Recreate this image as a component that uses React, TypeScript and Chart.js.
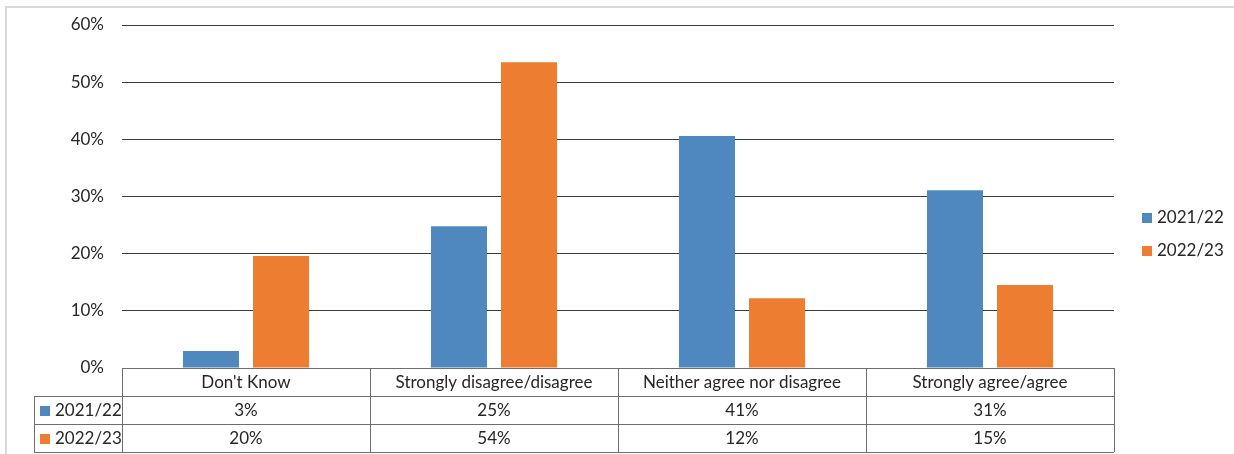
import React, { useEffect, useRef } from 'react';
import { Chart, registerables } from 'chart.js';

Chart.register(...registerables);

const categories = ["Don't Know", 'Strongly disagree/disagree', 'Neither agree nor disagree', 'Strongly agree/agree'];
const seriesNames = ['2021/22', '2022/23'];
const series2122 = [2.97, 24.8, 40.6, 31.1];
const series2223 = [19.6, 53.5, 12.2, 14.5];
const yTicks = [0, 10, 20, 30, 40, 50, 60];

const BLUE = '#4f88be';
const ORANGE = '#ed7d31';
const COLORS = [BLUE, ORANGE];
const FONT = 'Lato, "Open Sans", sans-serif';
const FONT_SIZE = 17;
const TEXT = '#262626';

const dataTablePlugin = {
  id: 'dataTable',
  afterDraw(chart: any) {
    const ctx = chart.ctx as CanvasRenderingContext2D;
    const area = chart.chartArea;
    const xScale = chart.scales.x;
    const n = categories.length;
    const colW = area.width / n;
    const rowH = 28;
    const top = area.bottom;
    const tableLeft = 34;
    const right = area.right;
    ctx.save();
    ctx.strokeStyle = '#6e6e6e';
    ctx.lineWidth = 1;
    const hline = (x1: number, x2: number, y: number) => {
      ctx.beginPath();
      ctx.moveTo(x1, Math.round(y) + 0.5);
      ctx.lineTo(x2, Math.round(y) + 0.5);
      ctx.stroke();
    };
    const vline = (x: number, y1: number, y2: number) => {
      ctx.beginPath();
      ctx.moveTo(Math.round(x) + 0.5, y1);
      ctx.lineTo(Math.round(x) + 0.5, y2);
      ctx.stroke();
    };
    hline(area.left, right, top);
    hline(tableLeft, right, top + rowH);
    hline(tableLeft, right, top + rowH * 2);
    hline(tableLeft, right, top + rowH * 3);
    vline(tableLeft, top + rowH, top + rowH * 3);
    for (let i = 0; i <= n; i++) {
      vline(area.left + i * colW, top, top + rowH * 3);
    }
    ctx.fillStyle = TEXT;
    ctx.font = `${FONT_SIZE}px ${FONT}`;
    ctx.textAlign = 'center';
    ctx.textBaseline = 'middle';
    categories.forEach((c, i) => {
      const cx = xScale.getPixelForValue(i);
      ctx.fillText(c, cx, top + rowH / 2 + 1);
      ctx.fillText(Math.round(series2122[i]) + '%', cx, top + rowH * 1.5 + 1);
      ctx.fillText(Math.round(series2223[i]) + '%', cx, top + rowH * 2.5 + 1);
    });
    seriesNames.forEach((s, r) => {
      const cy = top + rowH * (r + 1.5);
      ctx.fillStyle = COLORS[r];
      ctx.fillRect(tableLeft + 6, cy - 4, 10, 10);
      ctx.fillStyle = TEXT;
      ctx.textAlign = 'left';
      ctx.fillText(s, tableLeft + 21, cy + 1);
    });
    // legend on the right
    seriesNames.forEach((s, r) => {
      const cy = 217 + r * 33;
      const lx = area.right + 28;
      ctx.fillStyle = COLORS[r];
      ctx.fillRect(lx, cy - 4, 10, 10);
      ctx.fillStyle = TEXT;
      ctx.textAlign = 'left';
      ctx.fillText(s, lx + 15, cy + 1);
    });
    ctx.restore();
  },
};

export default function App() {
  const ref = useRef<HTMLCanvasElement | null>(null);
  useEffect(() => {
    if (!ref.current) return;
    const chart = new Chart(ref.current, {
      type: 'bar',
      data: {
        labels: categories,
        datasets: [
          { label: seriesNames[0], data: series2122, backgroundColor: BLUE, categoryPercentage: 0.565, barPercentage: 0.8 },
          { label: seriesNames[1], data: series2223, backgroundColor: ORANGE, categoryPercentage: 0.565, barPercentage: 0.8 },
        ],
      },
      options: {
        responsive: false,
        animation: false,
        layout: { padding: { top: 25, bottom: 86, left: 0, right: 120 } },
        plugins: {
          legend: { display: false },
          tooltip: { enabled: false },
        },
        scales: {
          x: { display: false },
          y: {
            min: 0,
            max: 60,
            afterFit: (scale: any) => {
              scale.width = 122;
              scale.paddingTop = 0;
              scale.paddingBottom = 0;
            },
            afterBuildTicks: (scale: any) => { scale.ticks = yTicks.map((v) => ({ value: v })); },
            ticks: {
              padding: 18,
              color: TEXT,
              font: { family: FONT, size: FONT_SIZE },
              callback: (v: any) => v + '%',
            },
            grid: { color: '#3a3a3a', drawTicks: false },
            border: { display: false },
          },
        },
      },
      plugins: [dataTablePlugin],
    });
    return () => chart.destroy();
  }, []);
  return (
    <div style={{ position: 'absolute', left: 0, top: 0, width: 1234, height: 454, background: '#fff', overflow: 'hidden' }}>
      <div style={{ position: 'absolute', left: 5, top: 6, width: 1300, height: 500, border: '2px solid #d9d9d9', boxSizing: 'border-box' }} />
      <canvas ref={ref} width={1234} height={454} style={{ position: 'absolute', left: 0, top: 0 }} />
    </div>
  );
}
